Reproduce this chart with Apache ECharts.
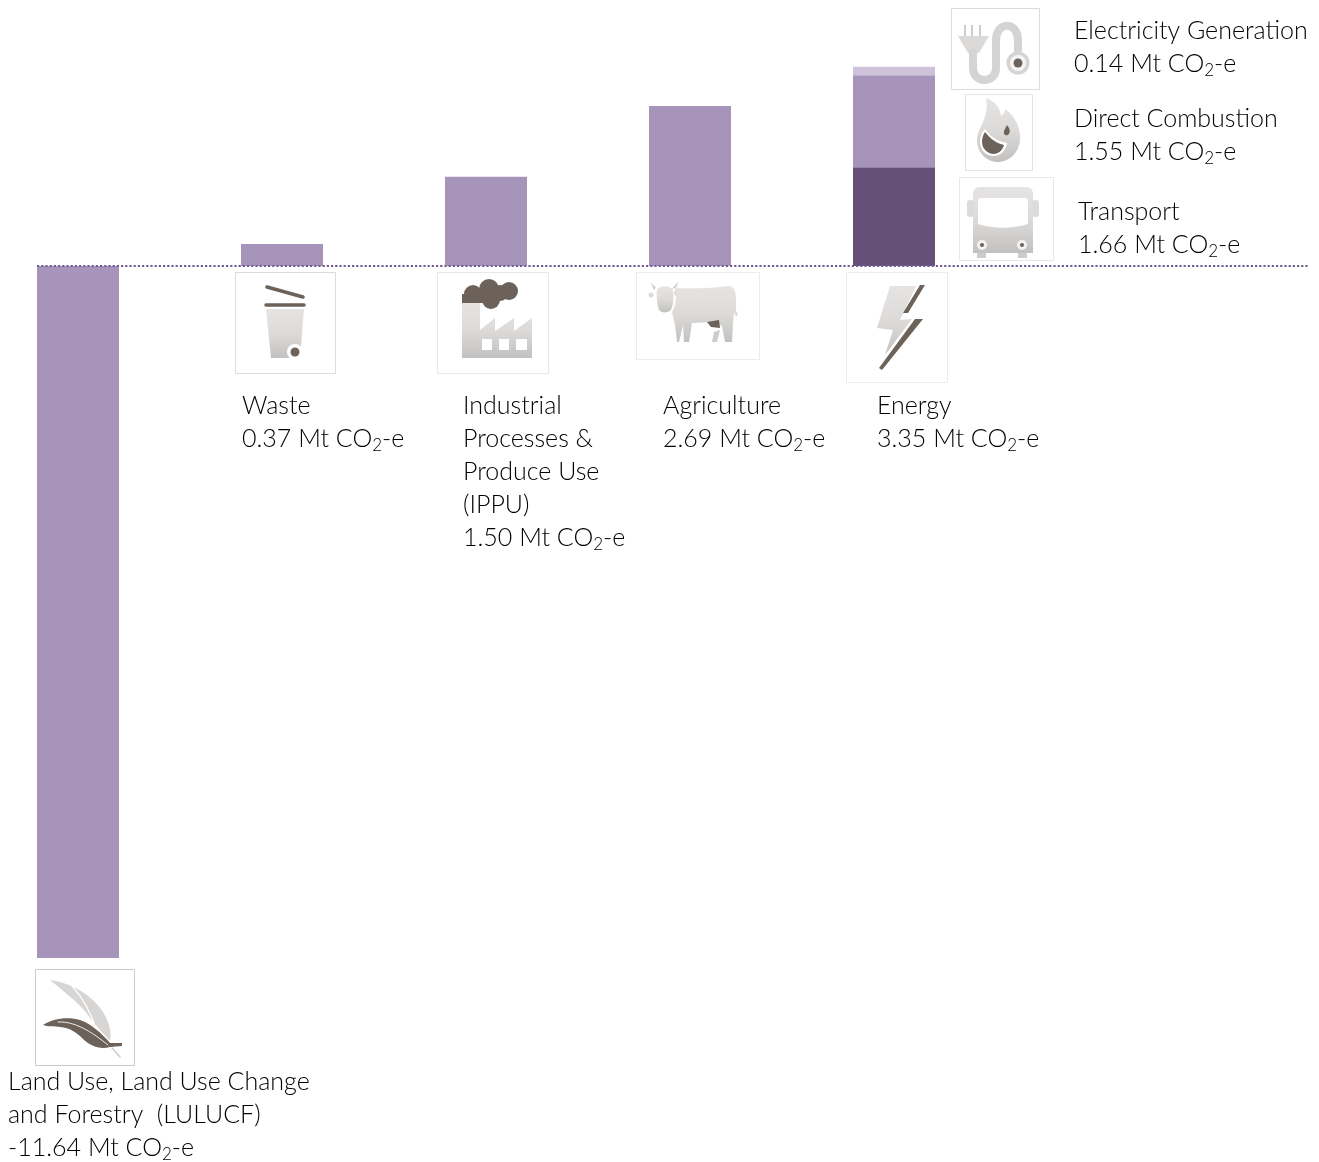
<!DOCTYPE html>
<html>
<head>
<meta charset="utf-8">
<style>html,body{margin:0;padding:0;background:#fff}#c{width:1319px;height:1162px}</style>
<script src="https://cdn.jsdelivr.net/npm/echarts@6/dist/echarts.min.js"></script>
</head>
<body>
<div id="c"></div>
<script>
// ---- data ----
const categories = ['LULUCF', 'Waste', 'IPPU', 'Agriculture', 'Energy'];
const sectorValues = [-11.64, 0.37, 1.50, 2.69, null];
const transportValues = [null, null, null, null, 1.66];
const directCombustionValues = [null, null, null, null, 1.55];
const electricityValues = [null, null, null, null, 0.14];

const sectorText = ['Land Use, Land Use Change\nand Forestry  (LULUCF)', 'Waste',
  'Industrial\nProcesses &\nProduce Use\n(IPPU)', 'Agriculture', 'Energy'];
const energyText = ['Transport', 'Direct Combustion', 'Electricity Generation'];
const unitA = ' Mt CO', unitB = '-e';

// ---- styles ----
const MID = '#a794ba', DARK = '#65507a', LIGHT = '#cdc2da', LINE = '#6f5d92';
const TEXT = '#5a5a5a', BROWN = '#6c6259';
const FONT = 'Lato';
const GRAY = {type:'linear',x:0,y:0,x2:0,y2:1,colorStops:[{offset:0,color:'#e6e4e2'},{offset:0.5,color:'#dddbd9'},{offset:1,color:'#c2c1bf'}]};

const rich = {
  n:{fontFamily:FONT,fontWeight:300,fontSize:25,lineHeight:33,color:TEXT},
  s:{fontFamily:FONT,fontWeight:300,fontSize:17,lineHeight:33,color:TEXT,padding:[15,0,0,0]}
};
function val(v){ return '{n|' + v.toFixed(2) + unitA + '}{s|2}{n|' + unitB + '}'; }
function lbl(name, v, x, y){
  const head = name.split('\n').map(l => '{n|' + l + '}').join('\n');
  return {type:'text', x:x, y:y, z:20, silent:true,
    style:{text: head + '\n' + val(v), rich:rich, x:0, y:0, textAlign:'left', textVerticalAlign:'top'}};
}

function box(x0,y0,x1,y1,c){return {type:'rect',shape:{x:x0+0.5,y:y0+0.5,width:x1-x0,height:y1-y0},style:{fill:'#fff',stroke:c||'#e2e2e2',lineWidth:1}};}
function p(d,fill){return {type:'path',shape:{pathData:d},style:{fill:fill}};}
function sp(d,stroke,w){return {type:'path',shape:{pathData:d},style:{fill:'none',stroke:stroke,lineWidth:w,lineCap:'round'}};}
function circ(cx,cy,r,fill){return {type:'circle',shape:{cx:cx,cy:cy,r:r},style:{fill:fill}};}
function rc(x,y,w,h,fill,rad){return {type:'rect',shape:{x:x,y:y,width:w,height:h,r:rad||0},style:{fill:fill}};}

const icons = [
  // waste bin
  box(235,272,335,373,'#dcdcdc'),
  sp('M267 287L303 297',BROWN,3.5), sp('M266 305L304 305',BROWN,3.5),
  p('M266 309L304 309L300 358L271 358Z',GRAY),
  circ(295,352,8,'#fff'), circ(295,352,4.5,BROWN),
  // factory
  box(437,272,548,373,'#e8e8e8'),
  p('M462 302L480 302L480 330L495 318L495 331L514 318L514 331L532 318L532 358L462 358Z',GRAY),
  rc(482,339,10,11,'#fff'), rc(499,339,10,11,'#fff'), rc(516,339,11,11,'#fff'),
  circ(473,294,9,BROWN), circ(489,289,10,BROWN), circ(509,291,9,BROWN), circ(491,300,9,BROWN), circ(500,293,8,BROWN),
  rc(462,294,24,9,BROWN),
  // cow
  box(636,272,759,359,'#ececec'),
  p('M657 290C660 285 670 285 673 290C674 298 673 308 670 311C666 313 661 313 659 310C657 304 656 296 657 290Z',GRAY),
  p('M650 282L656 287L654 290Z',GRAY), p('M678 281L677 287L672 289Z',GRAY),
  circ(651,295,2.5,'#dddbd9'), circ(677,293,3,'#dddbd9'),
  p('M675 288C690 289 715 288 729 286C735 287 736 292 736 300L736 311L738 314L736 317L734 312L733 324L732 342L725 342L722 326L714 322L692 323L691 330L689 342L684 342L683 325L679 342L677 342L675 325L672 312C676 306 677 296 675 288Z',GRAY),
  p('M712 342L714 332L720 330L717 342Z','#cfcdcb'),
  p('M707 322L719 320L720 328L711 327Z',BROWN),
  // lightning bolt
  box(846,272,947,382,'#ececec'),
  p('M890 286L916 286L900 320L912 319L885 355L893 330L877 328Z',GRAY),
  p('M920 285L925 285L908 313L903 313Z',BROWN),
  p('M915 319L923 319L882 370L879 368Z',BROWN),
  // plug
  box(951,8,1039,89,'#dcdcdc'),
  rc(964,25,2,11,'#cfcdcb'), rc(971,25,2,11,'#cfcdcb'), rc(979,25,2,11,'#cfcdcb'),
  p('M958 36L989 36L979 53L968 53Z','#dcdad8'),
  sp('M973 53L973 68C973 84 996 84 996 68L996 40C996 21 1018 21 1018 40L1018 52','#d6d4d2',8),
  circ(1018,63,11.5,'#d6d4d2'), circ(1018,63,8,'#f5f5f5'), circ(1018,63,4.5,BROWN),
  // flame
  box(965,94,1032,170,'#e4e4e4'),
  p('M986 98C996 102 1000 108 1001 116C1004 114 1005 112 1005 109C1015 116 1021 128 1020 140C1019 153 1009 162 998 162C986 162 977 152 977 140C977 128 990 118 986 98Z',GRAY),
  p('M985 129C990 135 995 141 1007 143C1006 151 1000 156 994 156C985 156 980 149 980 142C980 137 982 132 985 129Z','#fff'),
  p('M985 132C990 138 995 143 1004 145C1003 150 998 154 994 154C987 154 982 148 982 142C982 138 983 135 985 132Z',BROWN),
  p('M1007 125C1010 129 1011 132 1008 135C1005 136 1003 134 1004 131Z',BROWN),
  // bus
  box(959,177,1053,260,'#e8e8e8'),
  p('M980 187L1026 187C1031 187 1033 190 1033 195L1033 253L973 253L973 195C973 190 975 187 980 187Z',GRAY),
  rc(967,200,7,17,'#dddbd9',3), rc(1032,200,7,17,'#dddbd9',3),
  rc(977,253,9,5,'#cfcdcb'), rc(1018,253,9,5,'#cfcdcb'),
  p('M982 198L1025 198C1027 198 1028 199 1028 201L1028 224C1010 229 995 229 978 224L978 201C978 199 980 198 982 198Z','#fff'),
  circ(982,245,5,'#f2f2f2'), circ(982,245,2,BROWN), circ(1022,245,5,'#f2f2f2'), circ(1022,245,2,BROWN),
  // leaf
  box(35,969,134,1065,'#cccccc'),
  p('M50 980C72 983 92 995 103 1012C109 1022 112 1032 110 1041C100 1031 92 1020 84 1010C75 1000 62 990 50 980Z','#d8d6d4'),
  sp('M72 986C85 1000 92 1015 97 1032','#fff',1.2),
  sp('M112 1048L120 1057','#cfcdcb',1.5),
  p('M43 1025C52 1019 67 1016 80 1020C92 1024 102 1034 110 1043L122 1043L122 1046L110 1047C100 1050 90 1046 82 1038C76 1032 70 1028 60 1027C54 1026 48 1027 43 1025Z',BROWN),
  sp('M58 1022C75 1021 92 1032 108 1045','#eeeeee',1)
];

const labels = [
  lbl(sectorText[0], sectorValues[0], 8, 1065),
  lbl(sectorText[1], sectorValues[1], 242, 389),
  lbl(sectorText[2], sectorValues[2], 463, 389),
  lbl(sectorText[3], sectorValues[3], 663, 389),
  lbl(sectorText[4], transportValues[4] + directCombustionValues[4] + electricityValues[4], 877, 389),
  lbl(energyText[2], electricityValues[4], 1074, 14),
  lbl(energyText[1], directCombustionValues[4], 1074, 102),
  lbl(energyText[0], transportValues[4], 1078, 195)
];

const barBase = {type:'bar', stack:'total', barWidth:82, xAxisIndex:0, yAxisIndex:0, z:2, silent:true, clip:false};
const Y = {min:-12, max:4, interval:4, show:false, splitLine:{show:false}, type:'value'};
const gridPos = {top:28.2, height:951.2};

const option = {
  animation:false,
  backgroundColor:'#ffffff',
  grid:[
    Object.assign({left:78, width:816}, gridPos),
    Object.assign({left:37, width:1271}, gridPos)
  ],
  xAxis:[
    {type:'category', gridIndex:0, boundaryGap:false, data:categories, axisLine:{show:false}, axisTick:{show:false}, axisLabel:{show:false}, splitLine:{show:false}},
    {type:'value', gridIndex:1, min:0, max:1, z:10, axisLine:{show:true, onZero:true, lineStyle:{color:LINE, width:2, type:[2.2,2], cap:'butt'}}, axisTick:{show:false}, axisLabel:{show:false}, splitLine:{show:false}}
  ],
  yAxis:[
    Object.assign({gridIndex:0}, Y),
    Object.assign({gridIndex:1}, Y)
  ],
  series:[
    Object.assign({name:'Sector', data:sectorValues, itemStyle:{color:MID}}, barBase),
    Object.assign({name:'Transport', data:transportValues, itemStyle:{color:DARK}}, barBase),
    Object.assign({name:'Direct Combustion', data:directCombustionValues, itemStyle:{color:MID}}, barBase),
    Object.assign({name:'Electricity Generation', data:electricityValues, itemStyle:{color:LIGHT}}, barBase),
    {type:'custom', name:'icons', coordinateSystem:'none', data:[0], silent:true, z:6, clip:false,
     renderItem:function(){ return {type:'group', children:icons}; }}
  ],
  graphic:{elements: labels}
};
echarts.init(document.getElementById('c'), null, {renderer:'canvas'}).setOption(option);
</script>
</body>
</html>
